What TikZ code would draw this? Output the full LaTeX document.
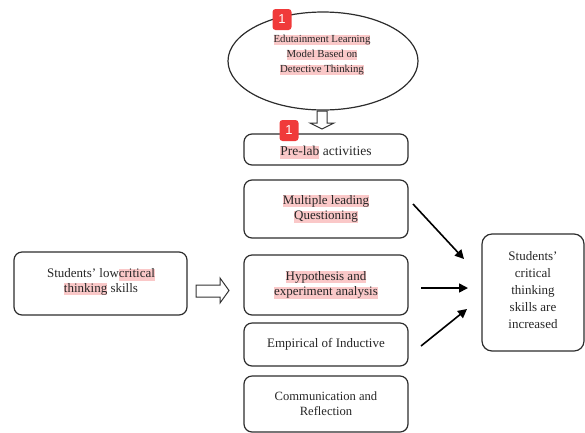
\documentclass[tikz,border=0pt]{standalone}
\usepackage{fontspec}
\setmainfont{Liberation Serif}
\setsansfont{Liberation Sans}
\usetikzlibrary{arrows.meta,shapes.geometric}
\definecolor{hlpink}{RGB}{250,200,200}
\definecolor{badgered}{RGB}{240,58,58}
\definecolor{edge}{RGB}{45,45,45}
\newcommand\hlt[1]{{\setlength{\fboxsep}{0pt}\colorbox{hlpink}{\rule[-0.24em]{0pt}{0.94em}#1}}}
\tikzset{
  box/.style={draw=edge, line width=1.2pt, rounded corners=8pt},
  txt/.style={align=center, font=\fontsize{13}{15.5}\selectfont, text=black!85},
  flow/.style={line width=1.6pt, -{Triangle[length=9pt,width=9pt]}},
  hollow/.style={draw=black!80, line width=1pt, fill=white},
  badge/.style={fill=badgered, rounded corners=3pt, minimum width=19pt, minimum height=21pt, inner sep=0pt, text=white, font=\fontsize{13}{13}\sffamily}
}
\begin{document}
\begin{tikzpicture}[x=1pt,y=-1pt]
\useasboundingbox (0,0) rectangle (585,432);
% ellipse
\node[draw=edge, line width=1.2pt, ellipse, minimum width=190pt, minimum height=98pt] (ell) at (323,61) {};
\node[txt, font=\fontsize{10.8}{15}\selectfont] (elltxt) at (322,55) {\hlt{Edutainment Learning}\\\hlt{Model Based on}\\\hlt{Detective Thinking}};
% hollow down arrow
\draw[hollow] (317,111) -- (327,111) -- (327,123) -- (334,123) -- (322,129) -- (310,123) -- (317,123) -- cycle;
% centre boxes
\node[box, minimum width=164pt, minimum height=31pt] (pre) at (326,149.5) {};
\node[txt, font=\fontsize{13.5}{15}\selectfont] at (326,152.5) {\hlt{Pre-lab} activities};
\node[box, minimum width=164pt, minimum height=58pt] (mlq) at (326,209) {};
\node[txt] at (326,209) {\hlt{Multiple leading}\\\hlt{Questioning}};
\node[box, minimum width=164pt, minimum height=60pt] (hyp) at (326,285) {};
\node[txt] at (326,285) {\hlt{Hypothesis and}\\\hlt{experiment analysis}};
\node[box, minimum width=164pt, minimum height=43pt] (emp) at (326,344.5) {};
\node[txt, font=\fontsize{13}{15}\selectfont] at (326,344) {Empirical of Inductive};
\node[box, minimum width=164pt, minimum height=56pt] (com) at (326,404) {};
\node[txt, font=\fontsize{12.6}{15}\selectfont] at (326,404) {Communication and\\Reflection};
% left box
\node[box, minimum width=173pt, minimum height=63pt] (low) at (100.5,283.5) {};
\node[txt, font=\fontsize{13}{14.5}\selectfont] at (101,282) {Students' low\hlt{critical}\\\hlt{thinking} skills};
% hollow right arrow
\draw[hollow] (196,285) -- (220,285) -- (220,278) -- (229,290.5) -- (220,303) -- (220,297) -- (196,297) -- cycle;
% right box
\node[box, minimum width=102pt, minimum height=117pt, rounded corners=10pt] (inc) at (533,292.5) {};
\node[txt, font=\fontsize{13}{17}\selectfont] at (533,290.5) {Students'\\critical\\thinking\\skills are\\increased};
% arrows
\coordinate (a1s) at (413,204); \coordinate (a1e) at (464,259);
\coordinate (a2s) at (421,288); \coordinate (a2e) at (468,288);
\coordinate (a3s) at (421,346); \coordinate (a3e) at (467,309);
\draw[flow] (a1s) -- (a1e);
\draw[flow] (a2s) -- (a2e);
\draw[flow] (a3s) -- (a3e);
% badges
\node[badge] (b1) at (282,19.5) {1};
\node[badge] (b2) at (289,130.5) {1};
\end{tikzpicture}
\end{document}
